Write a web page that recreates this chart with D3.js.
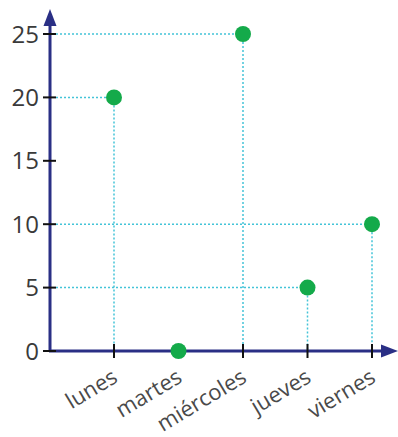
<!DOCTYPE html>
<html>
<head>
<meta charset="utf-8">
<script src="https://cdn.jsdelivr.net/npm/d3@7"></script>
<style>
  body { margin: 0; background: #fff; }
  svg { display: block; font-family: "Open Sans", sans-serif; }
</style>
</head>
<body>
<svg id="chart" width="398" height="437"></svg>
<script>
// Data
var dias = ["lunes", "martes", "miércoles", "jueves", "viernes"];
var valores = [20, 0, 25, 5, 10];
var yTicks = [0, 5, 10, 15, 20, 25];

var svg = d3.select("#chart");

var x = d3.scalePoint()
    .domain(dias)
    .range([114, 372]);

var y = d3.scaleLinear()
    .domain([0, 25])
    .range([351, 34]);

var x0 = 50;  // y axis position
var axisColour = "#2a2f85";
var guideColour = "#44c4d8";

// Guide lines (dotted)
var guides = svg.append("g");
valores.forEach(function(v, i) {
    if (v === 0) return;
    guides.append("line")
        .attr("x1", x0 + 6).attr("x2", x(dias[i]))
        .attr("y1", y(v)).attr("y2", y(v))
        .attr("stroke", guideColour).attr("stroke-width", 1.5)
        .attr("stroke-dasharray", "2,2");
    guides.append("line")
        .attr("x1", x(dias[i])).attr("x2", x(dias[i]))
        .attr("y1", y(v)).attr("y2", y(0))
        .attr("stroke", guideColour).attr("stroke-width", 1.5)
        .attr("stroke-dasharray", "2,2");
});

// Axes lines
svg.append("line")
    .attr("x1", x0).attr("x2", x0)
    .attr("y1", y(0) + 1).attr("y2", 22)
    .attr("stroke", axisColour).attr("stroke-width", 3);
svg.append("path")
    .attr("d", "M" + x0 + ",9 L" + (x0 - 6.5) + ",26 L" + (x0 + 6.5) + ",26 Z")
    .attr("fill", axisColour);

svg.append("line")
    .attr("x1", x0 - 1).attr("x2", 386)
    .attr("y1", y(0)).attr("y2", y(0))
    .attr("stroke", axisColour).attr("stroke-width", 3);
svg.append("path")
    .attr("d", "M398," + y(0) + " L381," + (y(0) - 6.5) + " L381," + (y(0) + 6.5) + " Z")
    .attr("fill", axisColour);

// Y ticks
var yt = svg.append("g").selectAll("g").data(yTicks).enter().append("g")
    .attr("transform", function(d) { return "translate(0," + y(d) + ")"; });
yt.append("line")
    .attr("x1", x0 - 7).attr("x2", x0 + 6)
    .attr("stroke", "#111").attr("stroke-width", 2);
yt.append("text")
    .attr("x", x0 - 11).attr("dy", "0.36em")
    .attr("text-anchor", "end")
    .attr("font-size", 24)
    .attr("fill", "#3a3a3a")
    .text(function(d) { return d; });

// X ticks
var xt = svg.append("g").selectAll("g").data(dias).enter().append("g")
    .attr("transform", function(d) { return "translate(" + x(d) + "," + y(0) + ")"; });
xt.append("line")
    .attr("y1", -7).attr("y2", 7)
    .attr("stroke", "#111").attr("stroke-width", 2);
xt.append("text")
    .attr("transform", "translate(5,30) rotate(-31)")
    .attr("text-anchor", "end")
    .attr("font-size", 22)
    .attr("fill", "#4a4a4a")
    .text(function(d) { return d; });

// Points
svg.append("g").selectAll("circle").data(valores).enter().append("circle")
    .attr("cx", function(d, i) { return x(dias[i]); })
    .attr("cy", function(d) { return y(d); })
    .attr("r", 8)
    .attr("fill", "#14aa4a");
</script>
</body>
</html>
